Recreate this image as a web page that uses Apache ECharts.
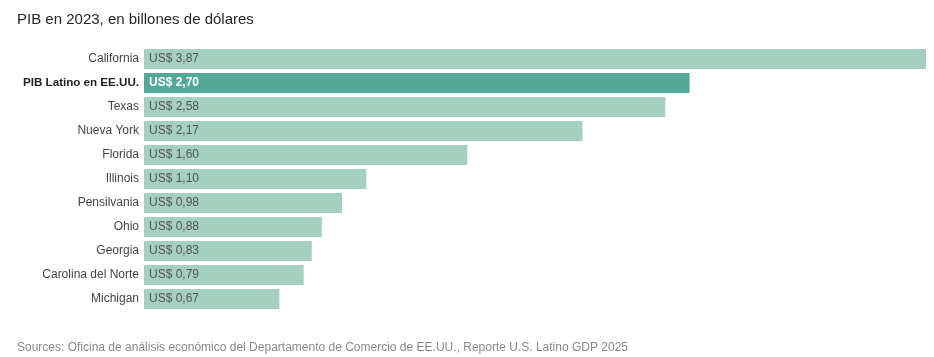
<!DOCTYPE html>
<html><head><meta charset="utf-8">
<script src="https://cdn.jsdelivr.net/npm/echarts@6/dist/echarts.min.js"></script>
<style>html,body{margin:0;padding:0;background:#fff}#c{width:934px;height:357px}</style>
</head><body><div id="c"></div>
<script>
var categories = ["California","PIB Latino en EE.UU.","Texas","Nueva York","Florida","Illinois","Pensilvania","Ohio","Georgia","Carolina del Norte","Michigan"];
var values = [3.87,2.70,2.58,2.17,1.60,1.10,0.98,0.88,0.83,0.79,0.67];
var highlight = "PIB Latino en EE.UU.";
var title = "PIB en 2023, en billones de dólares";
var source = "Sources: Oficina de análisis económico del Departamento de Comercio de EE.UU., Reporte U.S. Latino GDP 2025";

var chart = echarts.init(document.getElementById('c'));
var font = "Helvetica, Arial, 'Liberation Sans', sans-serif";
chart.setOption({
  animation:false,
  textStyle:{fontFamily:font},
  title:[
    {text:title,left:12,top:7,textStyle:{fontSize:15,fontWeight:'normal',color:'#262626',fontFamily:font}},
    {text:source,left:12,top:337,textStyle:{fontSize:12,fontWeight:'normal',color:'#888',fontFamily:font}}
  ],
  grid:{left:144,top:47,width:782,height:264},
  xAxis:{type:'value',min:0,max:3.87,show:false},
  yAxis:{type:'category',inverse:true,data:categories,
    axisLine:{show:false},axisTick:{show:false},
    axisLabel:{margin:5,fontSize:12,color:'#444',
      formatter:function(v){return v===highlight?'{b|'+v+'}':v;},
      rich:{b:{fontWeight:'bold',color:'#222',fontSize:11.6}}}},
  series:[{type:'bar',barWidth:20,
    data:values.map(function(v,i){
      var h=categories[i]===highlight;
      return {value:v,itemStyle:{color:h?'#53a897':'#a3d0bf'},
        label:{color:h?'#fff':'#555',fontWeight:h?'bold':'normal'}};
    }),
    label:{show:true,position:'insideLeft',distance:5,fontSize:12,
      formatter:function(p){return 'US$ '+p.value.toFixed(2).replace('.',',');}}
  }]
});
</script></body></html>
